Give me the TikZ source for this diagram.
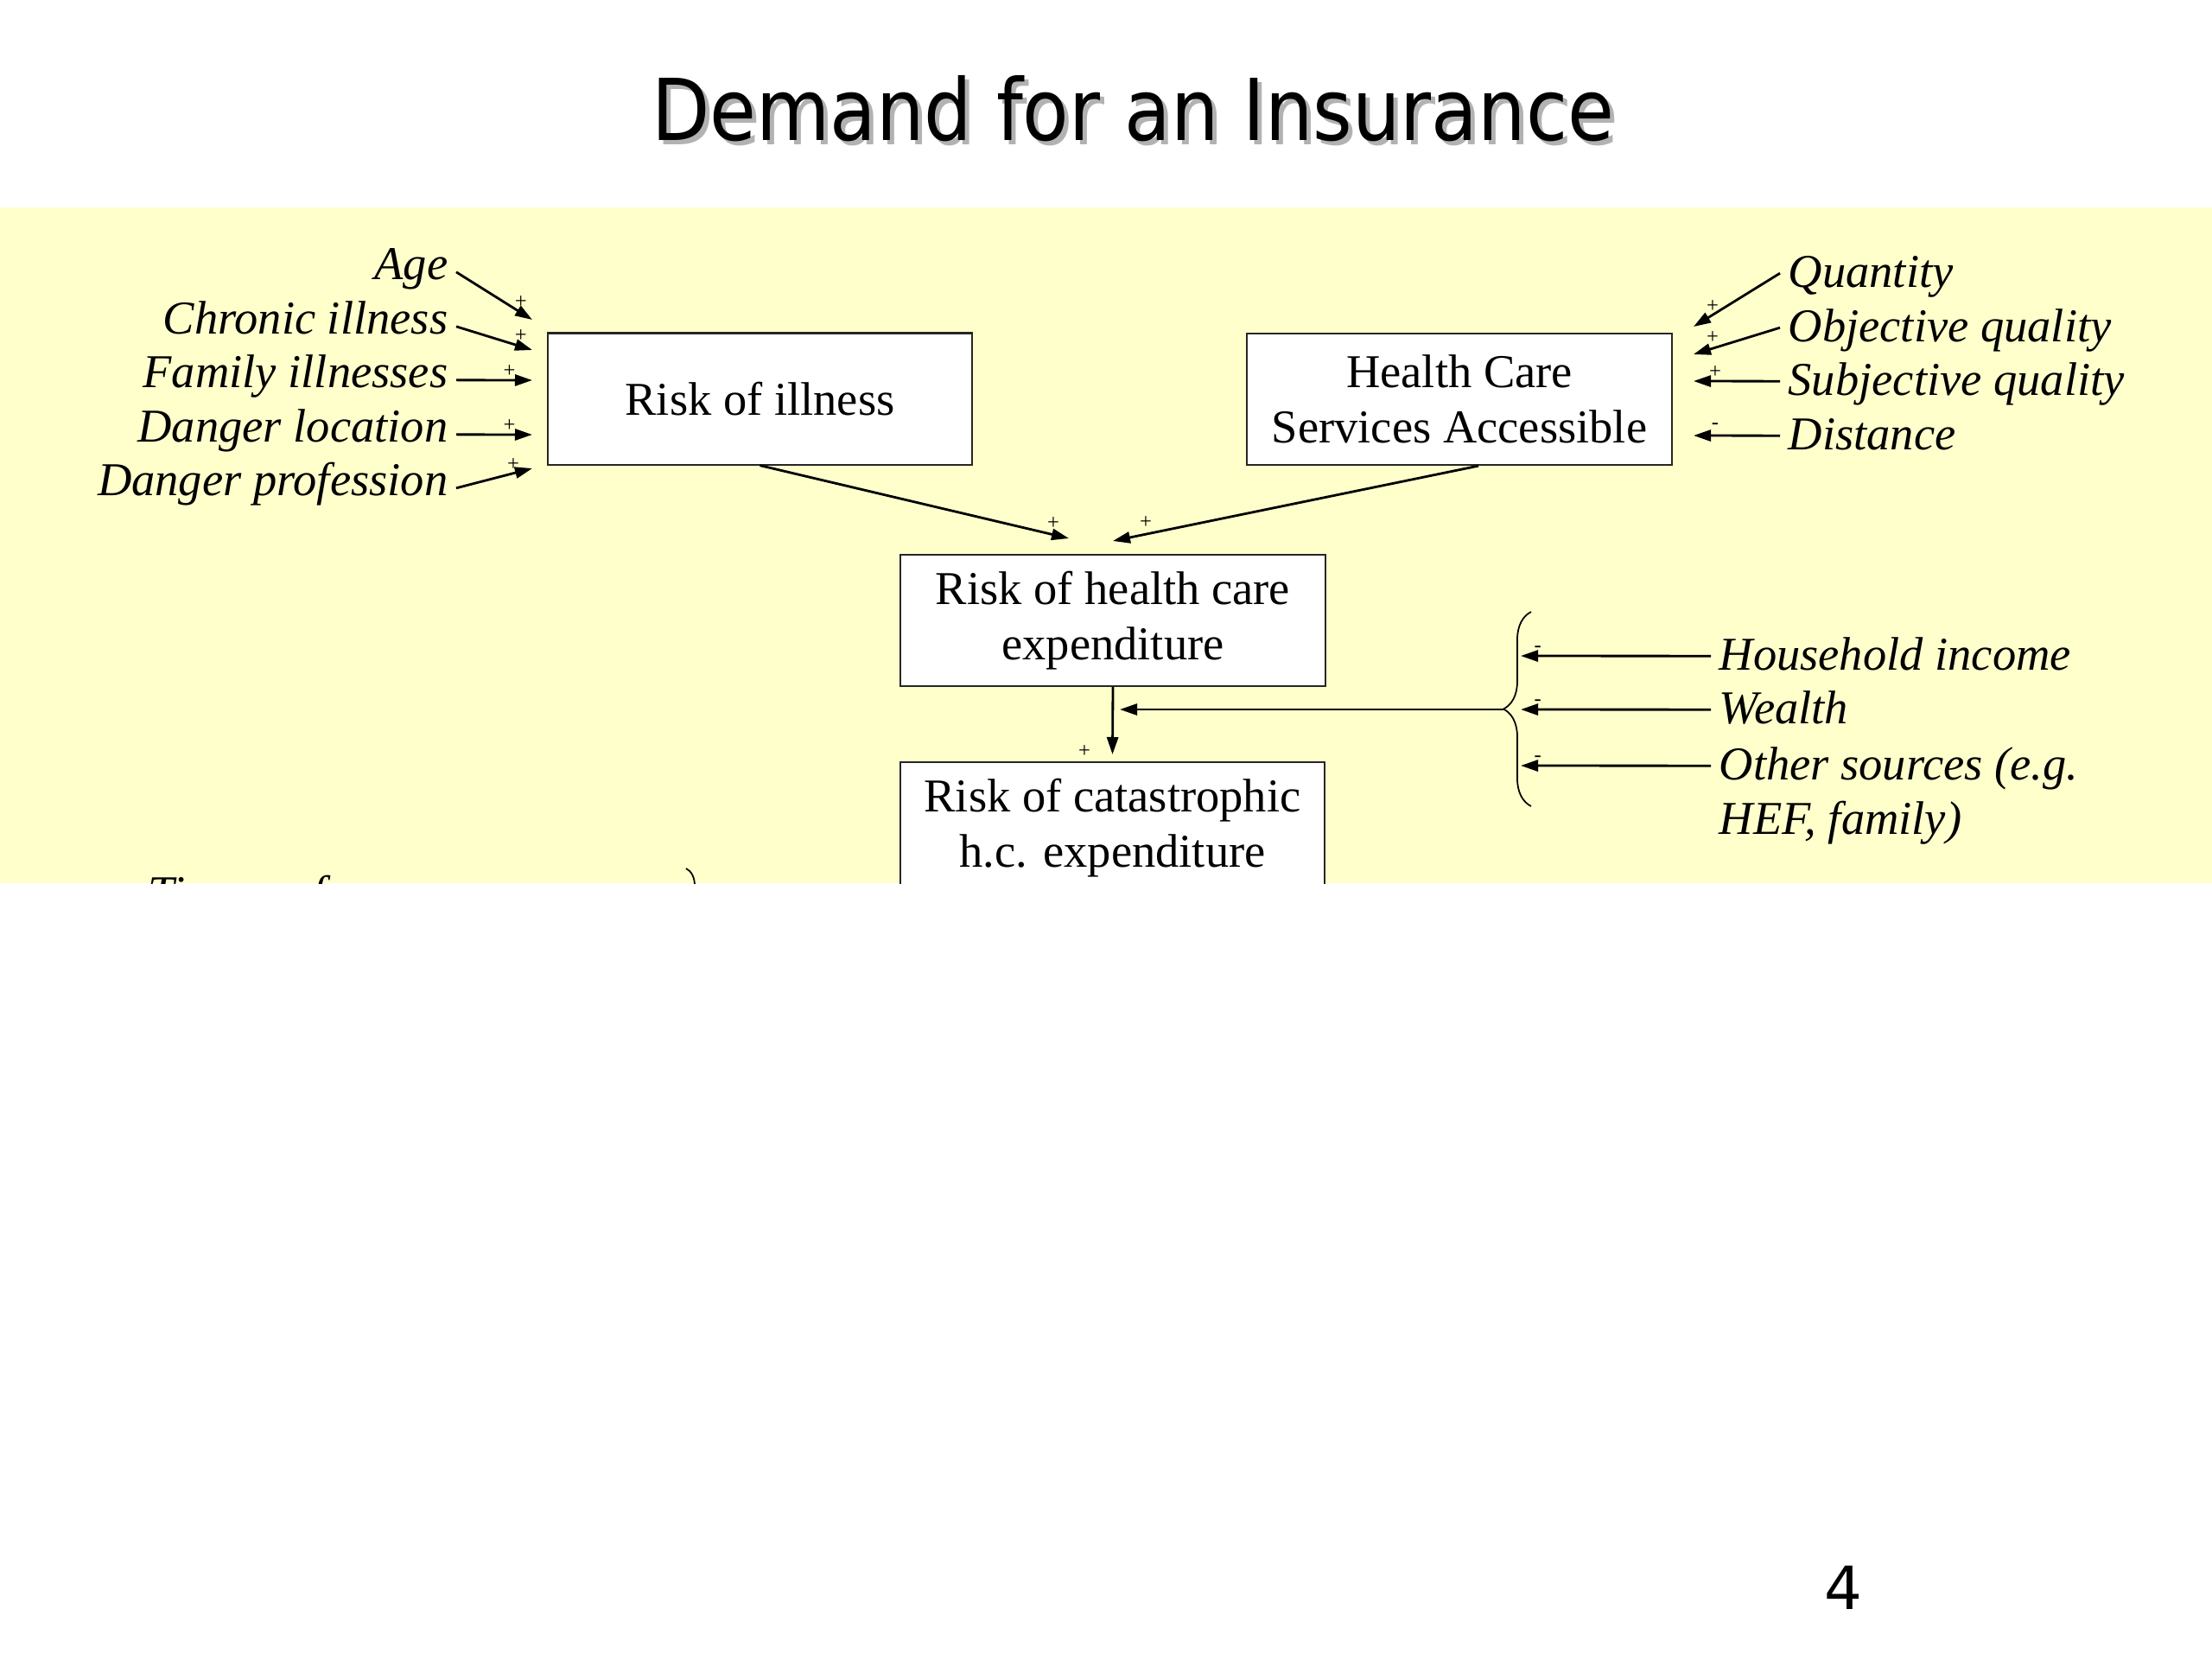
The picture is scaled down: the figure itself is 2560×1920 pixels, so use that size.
\documentclass[tikz,border=0pt]{standalone}
\usepackage{fontspec}
\setmainfont{Liberation Serif}
\newfontfamily\titlefont[FakeStretch=0.886]{DejaVu Sans}
\newfontfamily\numfont{DejaVu Sans}
\usetikzlibrary{%
  positioning
 ,arrows.meta
 ,calc
 ,decorations.pathreplacing
}
\definecolor{band}{HTML}{FFFFCC}
\tikzstyle{dia}=[x=0.01cm,y=-0.01cm,>={Triangle[length=0.2cm,width=0.13cm]}]
\tikzstyle{bx}=[rectangle,draw=black!85,line width=0.6pt,fill=white,minimum width=4.91cm,minimum height=1.52cm,inner sep=0pt,align=center,font=\fontsize{15.5}{18.2}\selectfont]
\tikzstyle{lft}=[anchor=base east,inner xsep=0.09cm,inner ysep=0pt,text height=9.3pt,text depth=4.65pt,font=\fontsize{15.5}{18.2}\selectfont\itshape]
\tikzstyle{rgt}=[anchor=base west,inner xsep=0.09cm,inner ysep=0pt,text height=13pt,text depth=4pt,font=\fontsize{15.5}{18.2}\selectfont\itshape]
\tikzstyle{sg}=[inner sep=0pt,font=\fontsize{7}{8}\selectfont]
\tikzstyle{arr}=[->,line width=0.8pt]
\tikzstyle{brc}=[line width=0.5pt,decorate,decoration={brace,amplitude=0.32cm}]

\begin{document}
\begin{tikzpicture}[dia]
  \useasboundingbox (0,0) rectangle (2560,1920);
  \fill[white] (0,0) rectangle (2560,1920);
  \fill[band] (0,240) rectangle (2560,1022);
  \node[anchor=base,inner sep=0pt,text=black!30,font=\titlefont\fontsize{28.1}{30}\selectfont] (t_s) at (1316,167) {Demand for an Insurance};
  \node[anchor=base,inner sep=0pt,font=\titlefont\fontsize{28.1}{30}\selectfont] (t_0) at (1311,162) {Demand for an Insurance};
  \node[inner sep=0pt,font=\numfont\fontsize{19.6}{22}\selectfont] (p_0) at (2133,1837) {4};
  \begin{scope}
    \clip (0,240) rectangle (2560,1022);
    \node[bx] (b_1) at (879.5,461.5) {Risk of illness};
    \node[bx] (b_2) at (1689,462) {Health Care\\Services Accessible};
    \node[bx] (b_3) at (1288,718) {Risk of health care\\expenditure};
    \node[bx] (b_4) at (1287.5,958) {Risk of catastrophic\\h.c. expenditure};

    \node[lft] (l_1) at (528,323) {Age};
    \node[lft] (l_2) at (528,386) {Chronic illness};
    \node[lft] (l_3) at (528,448) {Family illnesses};
    \node[lft] (l_4) at (528,511) {Danger location};
    \node[lft] (l_5) at (528,573) {Danger profession};
    \coordinate (a_1) at (616,370);
    \coordinate (a_2) at (616,405);
    \coordinate (a_3) at (616,440);
    \coordinate (a_4) at (616,503);
    \coordinate (a_5) at (616,542);

    \node[rgt] (r_1) at (2060,332) {Quantity};
    \node[rgt] (r_2) at (2060,395) {Objective quality};
    \node[rgt] (r_3) at (2060,457) {Subjective quality};
    \node[rgt] (r_4) at (2060,520) {Distance};
    \coordinate (c_1) at (1960,378);
    \coordinate (c_2) at (1960,410);
    \coordinate (c_3) at (1960,441);
    \coordinate (c_4) at (1960,504);

    \node[rgt] (w_1) at (1980,775) {Household income};
    \node[rgt] (w_2) at (1980,837) {Wealth};
    \node[rgt] (w_3) at (1980,902) {Other sources (e.g.};
    \node[rgt] (w_4) at (1980,965) {HEF, family)};
    \coordinate (d_1) at (1760,759);
    \coordinate (d_2) at (1760,821);
    \coordinate (d_3) at (1760,886);
    \draw[brc] (1772,933) -- (1772,708);
    \coordinate (e_0) at (1740,821);
    \coordinate (e_1) at (1296,821);

    \coordinate (m_1) at (1237,623);
    \coordinate (m_2) at (1288,626);
    \coordinate (m_3) at (1287.5,873);

    \node[anchor=base west,inner sep=0pt,font=\fontsize{15.5}{18.2}\selectfont\itshape] (tp) at (171,1051) {Time preference};
    \draw[brc,decoration={brace,amplitude=0.2cm}] (794,1005) -- (794,1400);

    \path[arr]
      (l_1.east) edge node[sg,pos=.85,above=0.04cm] {+} (a_1)
      (l_2.east) edge node[sg,pos=.85,above=0.04cm] {+} (a_2)
      (l_3.east) edge node[sg,pos=.7,above=0.02cm] {+} (a_3)
      (l_4.east) edge node[sg,pos=.7,above=0.02cm] {+} (a_4)
      (l_5.east) edge node[sg,pos=.75,above=0.02cm] {+} (a_5)
      (r_1.west) edge node[sg,pos=.78,above=0.02cm] {+} (c_1)
      (r_2.west) edge node[sg,pos=.78,above=0.04cm] {+} (c_2)
      (r_3.west) edge node[sg,pos=.75,above=0.02cm] {+} (c_3)
      (r_4.west) edge node[sg,pos=.75,above=0.06cm] {-} (c_4)
      (w_1.west) edge node[sg,pos=.91,above=0.03cm] {-} (d_1)
      (w_2.west) edge node[sg,pos=.91,above=0.03cm] {-} (d_2)
      (w_3.west) edge node[sg,pos=.91,above=0.03cm] {-} (d_3)
      (e_0) edge (e_1)
      (b_1.south) edge node[sg,pos=.95,above=0.05cm] {+} (m_1)
      ([xshift=0.22cm]b_2.south) edge node[sg,pos=.91,above=0.05cm] {+} (m_2)
      (b_3.south) edge node[sg,pos=.95,left=0.24cm] {+} (m_3);
  \end{scope}
\end{tikzpicture}
\end{document}
